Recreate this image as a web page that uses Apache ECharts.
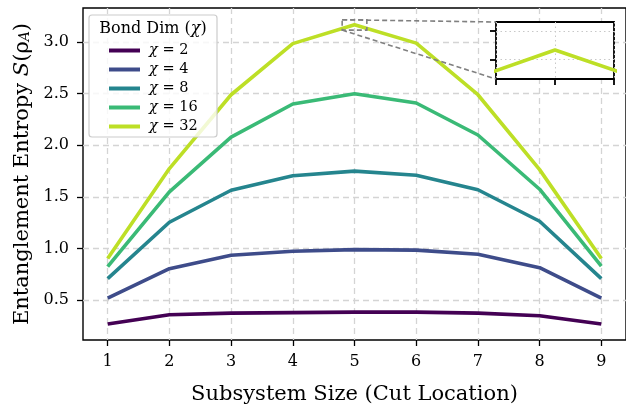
<!DOCTYPE html>
<html><head><meta charset="utf-8">
<script src="https://cdn.jsdelivr.net/npm/echarts@6.0.0/dist/echarts.min.js"></script>
<style>html,body{margin:0;padding:0;background:#fff}#c{width:626px;height:410px}</style>
</head><body><div id="c"></div>
<script>
const xValues = [1, 2, 3, 4, 5, 6, 7, 8, 9];
const chi2  = [0.27, 0.36, 0.375, 0.38, 0.385, 0.385, 0.375, 0.35, 0.27];
const chi4  = [0.52, 0.805, 0.935, 0.975, 0.99, 0.985, 0.945, 0.815, 0.52];
const chi8  = [0.71, 1.255, 1.565, 1.705, 1.75, 1.71, 1.57, 1.265, 0.71];
const chi16 = [0.825, 1.55, 2.08, 2.40, 2.50, 2.41, 2.10, 1.575, 0.83];
const chi32 = [0.905, 1.775, 2.49, 2.985, 3.167, 2.99, 2.49, 1.765, 0.905];
const seriesNames = ['χ = 2', 'χ = 4', 'χ = 8', 'χ = 16', 'χ = 32'];
const seriesValues = [chi2, chi4, chi8, chi16, chi32];
const colors = ['#440154', '#3e4c8a', '#25858e', '#3aba76', '#bddf26'];
const xTicks = [1, 2, 3, 4, 5, 6, 7, 8, 9];
const yTicks = [0.5, 1.0, 1.5, 2.0, 2.5, 3.0];
const insetXTicks = [4.8, 5.0, 5.2];
const insetYTicks = [3.15, 3.20];
const zoomX = [4.8, 5.2];
const zoomY = [3.116, 3.216];
const xRange = [0.6, 9.4];
const yRange = [0.115, 3.33];

const FONT = 'DejaVu Serif';
const chart = echarts.init(document.getElementById('c'), null, {renderer: 'canvas'});
const pairs = v => xValues.map((x, i) => [x, v[i]]);

const series = seriesNames.map((n, i) => ({
  name: n, type: 'line', data: pairs(seriesValues[i]), xAxisIndex: 0, yAxisIndex: 0,
  symbol: 'none', lineStyle: {color: colors[i], width: 3.6}, itemStyle: {color: colors[i]},
  z: 2, animation: false
}));
series.push({
  name: 'inset', type: 'line', data: pairs(chi32), xAxisIndex: 1, yAxisIndex: 1,
  symbol: 'none', lineStyle: {color: colors[4], width: 3.6}, z: 12, clip: true, animation: false
});

const gridLine = {show: true, lineStyle: {color: '#d4d4d4', type: [6, 4], width: 1.3}};
const insetSplit = {show: true, lineStyle: {color: '#c8c8c8', type: [1.5, 3], width: 1}};

chart.setOption({
  animation: false,
  textStyle: {fontFamily: FONT},
  grid: [
    {left: 83, top: 8, width: 547, height: 336, show: true, borderColor: '#000', borderWidth: 1.4, backgroundColor: 'transparent', z: 0},
    {left: 496, top: 22, width: 118, height: 57, show: true, borderColor: '#000', borderWidth: 1.8, backgroundColor: '#fff', z: 10}
  ],
  xAxis: [
    {type: 'value', gridIndex: 0, min: xRange[0], max: xRange[1],
     axisLine: {show: false},
     axisTick: {show: true, customValues: xTicks, length: 6, lineStyle: {color: '#000', width: 1.3}},
     axisLabel: {customValues: xTicks, color: '#000', fontSize: 16, fontFamily: FONT, margin: 14, formatter: v => String(v)},
     splitLine: gridLine,
     name: 'Subsystem Size (Cut Location)', nameLocation: 'middle', nameGap: 44,
     nameTextStyle: {fontSize: 21, fontFamily: FONT, color: '#000'}},
    {type: 'value', gridIndex: 1, min: zoomX[0], max: zoomX[1], z: 11,
     axisLine: {show: false},
     axisTick: {show: true, customValues: insetXTicks, length: 6, lineStyle: {color: '#000', width: 1.8}},
     axisLabel: {show: false},
     splitLine: insetSplit}
  ],
  yAxis: [
    {type: 'value', gridIndex: 0, min: yRange[0], max: yRange[1],
     axisLine: {show: false},
     axisTick: {show: true, customValues: yTicks, length: 6, lineStyle: {color: '#000', width: 1.3}},
     axisLabel: {customValues: yTicks, color: '#000', fontSize: 16, fontFamily: FONT, margin: 14, formatter: v => v.toFixed(1)},
     splitLine: gridLine,
     name: 'Entanglement Entropy {i|S}(\u03c1{sub|A})', nameLocation: 'middle', nameGap: 50,
     nameTextStyle: {fontSize: 21, fontFamily: FONT, color: '#000',
       rich: {i: {fontStyle: 'italic', fontSize: 21, fontFamily: FONT}, sub: {fontSize: 14, fontStyle: 'italic', verticalAlign: 'bottom', fontFamily: FONT, padding: [7, 0, 0, 0]}}}},
    {type: 'value', gridIndex: 1, min: zoomY[0], max: zoomY[1], z: 11,
     axisLine: {show: false},
     axisTick: {show: true, customValues: insetYTicks, length: 6, lineStyle: {color: '#000', width: 1.8}},
     axisLabel: {show: false},
     splitLine: insetSplit}
  ],
  legend: {
    data: seriesNames, orient: 'vertical', left: 109, top: 43, padding: 0, z: 30,
    itemWidth: 31, itemHeight: 4, icon: 'rect', itemGap: 4,
    textStyle: {fontSize: 14.5, fontFamily: FONT, color: '#000', lineHeight: 15, padding: [0, 0, 0, 4],
      rich: {i: {fontStyle: 'italic', fontSize: 14.5, fontFamily: FONT}}},
    formatter: n => n.replace('χ', '{i|χ}')
  },
  series: series
});

const p = (x, y) => chart.convertToPixel({gridIndex: 0}, [x, y]);
const q = (x, y) => chart.convertToPixel({gridIndex: 1}, [x, y]);
const r0 = p(zoomX[0], zoomY[1]);
const r1 = p(zoomX[1], zoomY[0]);
const i0 = q(zoomX[0], zoomY[1]);
const i1 = q(zoomX[0], zoomY[0]);
const dash = {stroke: '#808080', lineWidth: 1.6, lineDash: [5, 3], fill: null};
chart.setOption({
  graphic: [
    {type: 'rect', z: 29, shape: {x: 89, y: 15, width: 128, height: 122, r: 3},
     style: {fill: 'rgba(255,255,255,0.8)', stroke: '#cccccc', lineWidth: 1.2}},
    {type: 'text', z: 30, x: 153, y: 21, style: {
      text: 'Bond Dim ({i|χ})', fontSize: 16, fontFamily: FONT, fill: '#000', align: 'center',
      rich: {i: {fontStyle: 'italic', fontSize: 16, fontFamily: FONT}}}},
    {type: 'rect', z: 15, shape: {x: r0[0], y: r0[1], width: r1[0] - r0[0], height: r1[1] - r0[1]}, style: dash},
    {type: 'line', z: 15, shape: {x1: r0[0], y1: r0[1], x2: i0[0], y2: i0[1]}, style: dash},
    {type: 'line', z: 15, shape: {x1: r0[0], y1: r1[1], x2: i1[0], y2: i1[1]}, style: dash}
  ]
});
</script></body></html>
